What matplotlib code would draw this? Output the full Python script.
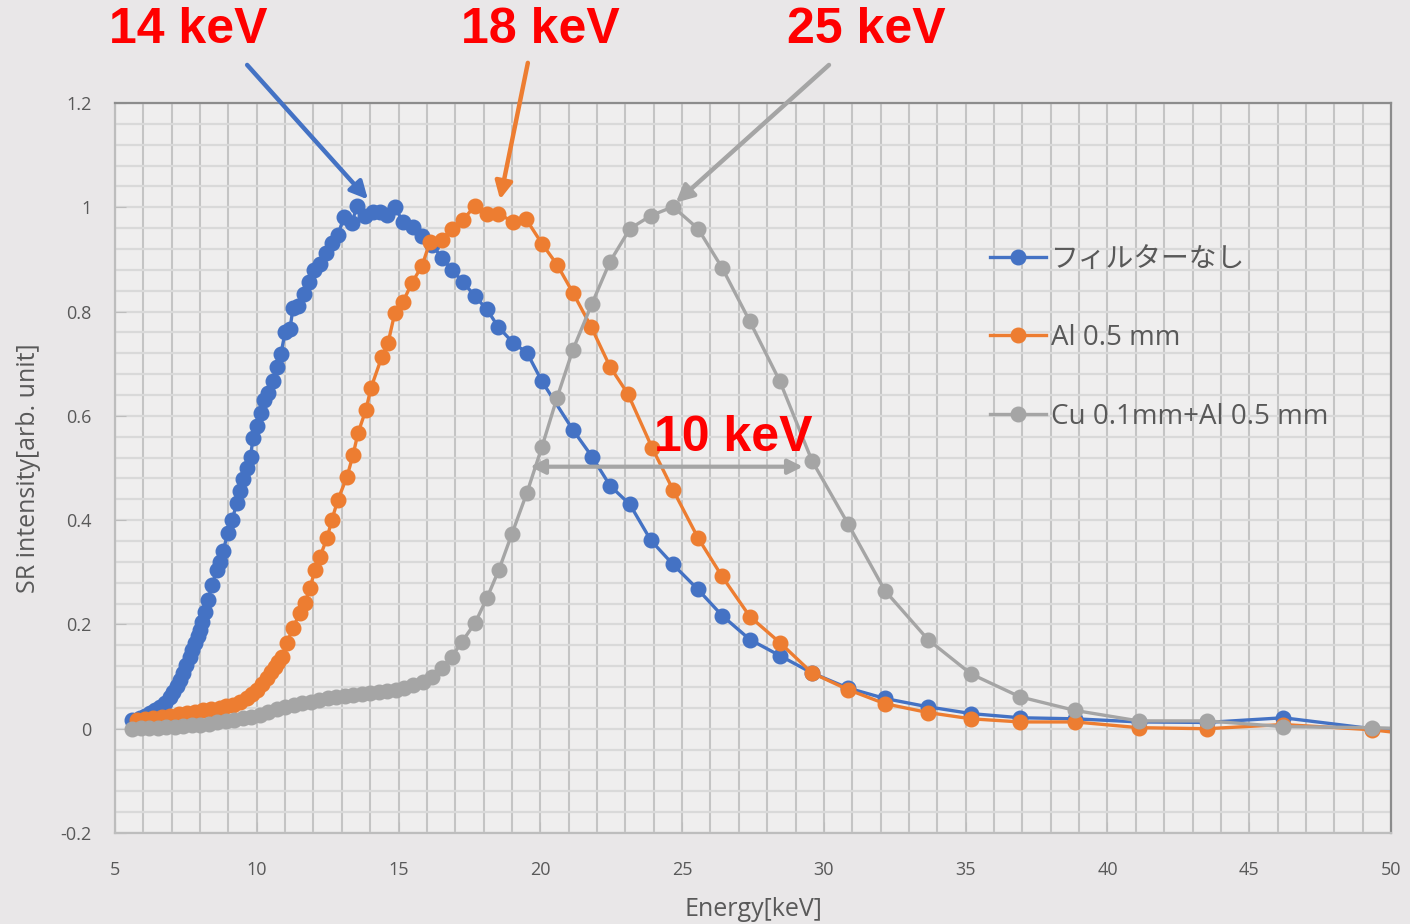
import matplotlib
matplotlib.use('Agg')
import matplotlib.pyplot as plt
from matplotlib.ticker import MultipleLocator, FuncFormatter

plt.rcParams['font.family'] = ['Open Sans', 'Noto Sans CJK JP', 'DejaVu Sans']

# ----------------------------------------------------------------------
# Spectra (energy in keV, normalised intensity)

blue_e = [5.60, 5.88, 6.05, 6.23, 6.40, 6.59, 6.76, 6.94, 7.05, 7.19, 7.30, 7.40,
          7.52, 7.64, 7.73, 7.82, 7.91, 8.00, 8.08, 8.17, 8.28, 8.42, 8.60, 8.70,
          8.81, 8.98, 9.13, 9.30, 9.41, 9.52, 9.66, 9.78, 9.87, 10.00, 10.15, 10.25,
          10.40, 10.57, 10.71, 10.85, 11.00, 11.17, 11.28, 11.45, 11.67, 11.84, 12.02,
          12.23, 12.44, 12.65, 12.86, 13.08, 13.36, 13.53, 13.82, 14.10, 14.35, 14.60,
          14.87, 15.16, 15.51, 15.83, 16.18, 16.53, 16.88, 17.27, 17.70, 18.12, 18.51,
          19.04, 19.53, 20.06, 21.15, 21.82, 22.46, 23.16, 23.90, 24.68, 25.56, 26.41,
          27.39, 28.45, 29.58, 30.85, 32.15, 33.67, 35.19, 36.92, 38.86, 41.10, 43.50,
          46.20, 49.33, 50.60]
blue_v = [0.017, 0.021, 0.025, 0.031, 0.036, 0.042, 0.050, 0.061, 0.070, 0.081, 0.094, 0.107,
          0.122, 0.138, 0.151, 0.165, 0.177, 0.190, 0.205, 0.224, 0.247, 0.276, 0.305, 0.320,
          0.340, 0.376, 0.401, 0.433, 0.455, 0.478, 0.500, 0.522, 0.558, 0.581, 0.606, 0.631,
          0.644, 0.667, 0.694, 0.719, 0.760, 0.767, 0.807, 0.811, 0.834, 0.857, 0.880,
          0.892, 0.913, 0.932, 0.947, 0.982, 0.970, 1.003, 0.984, 0.990, 0.990, 0.986,
          1.001, 0.971, 0.963, 0.944, 0.928, 0.903, 0.880, 0.857, 0.829, 0.804, 0.771,
          0.740, 0.721, 0.666, 0.573, 0.522, 0.466, 0.430, 0.361, 0.315, 0.267, 0.217,
          0.171, 0.140, 0.107, 0.078, 0.058, 0.042, 0.029, 0.021, 0.019, 0.013, 0.012,
          0.021, 0.000, -0.008]

orange_e = [5.78, 6.05, 6.34, 6.64, 6.94, 7.24, 7.54, 7.82, 8.10, 8.40, 8.70, 8.93,
            9.16, 9.40, 9.66, 9.83, 10.00, 10.18, 10.36, 10.50, 10.64, 10.76, 10.89,
            11.07, 11.28, 11.52, 11.70, 11.88, 12.05, 12.23, 12.48, 12.65, 12.86, 13.18,
            13.39, 13.57, 13.85, 14.03, 14.41, 14.63, 14.87, 15.16, 15.47, 15.83, 16.11,
            16.53, 16.88, 17.27, 17.70, 18.12, 18.51, 19.04, 19.49, 20.06, 20.59, 21.15,
            21.79, 22.46, 23.09, 23.94, 24.68, 25.56, 26.41, 27.39, 28.45, 29.58, 30.85,
            32.15, 33.67, 35.19, 36.92, 38.86, 41.10, 43.50, 46.20, 49.33, 50.60]
orange_v = [0.017, 0.019, 0.021, 0.023, 0.025, 0.028, 0.031, 0.033, 0.035, 0.037, 0.040, 0.043,
            0.046, 0.052, 0.059, 0.066, 0.075, 0.086, 0.098, 0.108, 0.119, 0.128, 0.138,
            0.165, 0.194, 0.222, 0.242, 0.270, 0.305, 0.330, 0.366, 0.401, 0.439, 0.483,
            0.524, 0.567, 0.612, 0.654, 0.713, 0.740, 0.798, 0.819, 0.855, 0.888, 0.934,
            0.938, 0.959, 0.976, 1.003, 0.988, 0.988, 0.972, 0.978, 0.930, 0.890, 0.836,
            0.771, 0.694, 0.642, 0.539, 0.458, 0.366, 0.292, 0.215, 0.165, 0.107, 0.075,
            0.048, 0.031, 0.019, 0.013, 0.013, 0.002, 0.000, 0.008, -0.002, -0.010]

gray_e = [5.60, 5.90, 6.20, 6.50, 6.80, 7.10, 7.40, 7.70, 8.00, 8.30, 8.60, 8.90,
          9.20, 9.50, 9.80, 10.10, 10.40, 10.70, 11.00, 11.30, 11.60, 11.90, 12.20,
          12.50, 12.80, 13.10, 13.40, 13.70, 14.00, 14.30, 14.60, 14.90, 15.20, 15.50,
          15.86, 16.18, 16.53, 16.88, 17.24, 17.70, 18.12, 18.54, 19.00, 19.53, 20.06,
          20.59, 21.15, 21.82, 22.46, 23.16, 23.90, 24.68, 25.56, 26.41, 27.39, 28.45,
          29.58, 30.85, 32.15, 33.67, 35.19, 36.92, 38.86, 41.10, 43.50, 46.20, 49.33,
          50.60]
gray_v = [0.000, 0.001, 0.002, 0.002, 0.003, 0.004, 0.005, 0.007, 0.008, 0.010, 0.012, 0.014,
          0.017, 0.020, 0.023, 0.027, 0.032, 0.037, 0.041, 0.045, 0.049, 0.052, 0.055,
          0.058, 0.060, 0.062, 0.064, 0.066, 0.068, 0.070, 0.072, 0.075, 0.079, 0.083,
          0.090, 0.100, 0.117, 0.138, 0.167, 0.203, 0.251, 0.305, 0.374, 0.453, 0.541,
          0.635, 0.727, 0.815, 0.896, 0.959, 0.984, 1.001, 0.959, 0.884, 0.781, 0.666,
          0.514, 0.393, 0.265, 0.171, 0.105, 0.061, 0.035, 0.015, 0.015, 0.004, 0.002,
          0.000]

labels = ['フィルターなし', 'Al 0.5 mm', 'Cu 0.1mm+Al 0.5 mm']
colors = ['#4472C4', '#ED7D31', '#A5A5A5']

# ----------------------------------------------------------------------

fig = plt.figure(figsize=(14.1, 9.24), dpi=100, facecolor='#e9e7e8')
ax = fig.add_axes([115/1410, 1 - 833/924, 1276/1410, 730/924])
ax.set_facecolor('#efeeee')

for e, v, lab, c in zip([blue_e, orange_e, gray_e], [blue_v, orange_v, gray_v], labels, colors):
    ax.plot(e, v, '-o', color=c, lw=2.4, ms=10.5, label=lab)

ax.set_xlim(5, 50)
ax.set_ylim(-0.2, 1.2)
ax.xaxis.set_major_locator(MultipleLocator(5))
ax.xaxis.set_minor_locator(MultipleLocator(1))
ax.yaxis.set_major_locator(MultipleLocator(0.2))
ax.yaxis.set_minor_locator(MultipleLocator(0.04))
ax.yaxis.set_major_formatter(FuncFormatter(lambda y, p: '%g' % round(y, 2)))

ax.grid(which='both', axis='x', color='#c4c4c4', lw=1.5)
ax.grid(which='both', axis='y', color='#d9d9d9', lw=1.6)
ax.set_axisbelow(True)

ax.tick_params(which='major', direction='in', length=8, color='#bdbdbd',
               labelcolor='#595959', labelsize=13)
ax.tick_params(which='minor', length=0)
ax.tick_params(axis='y', pad=17)
ax.tick_params(axis='x', pad=20)

for side in ['top', 'right']:
    ax.spines[side].set_color('#8c8c8c')
    ax.spines[side].set_linewidth(1.6)
for side in ['left', 'bottom']:
    ax.spines[side].set_color('#bdbdbd')
    ax.spines[side].set_linewidth(1.6)

ax.set_xlabel('Energy[keV]', fontsize=18, color='#595959')
ax.set_ylabel('SR intensity[arb. unit]', fontsize=18, color='#595959')
ax.xaxis.set_label_coords(0.5, -0.087)
ax.yaxis.set_label_coords(-0.058, 0.5)

ax.legend(loc='center left', bbox_to_anchor=(0.686, 0.678), frameon=False,
          fontsize=20, labelspacing=1.82, handlelength=2.0, handletextpad=0.2,
          borderpad=0, borderaxespad=0, labelcolor='#595959')

# Peak annotations
red_font = dict(family=['Liberation Sans Narrow', 'Liberation Sans'], weight='bold',
                color='#ff0000', fontsize=36, ha='center', va='center')
fig.text(188/1410, 1 - 30/924, '14 keV', **red_font)
fig.text(540/1410, 1 - 30/924, '18 keV', **red_font)
fig.text(866/1410, 1 - 30/924, '25 keV', **red_font)
fig.text(733/1410, 1 - 438/924, '10 keV', **red_font)

arrows = [
    ((13.92, 1.015), (9.66, 1.273), colors[0]),
    ((18.58, 1.015), (19.56, 1.277), colors[1]),
    ((24.78, 1.009), (30.18, 1.273), '#a5a5a5'),
]
for tip, tail, c in arrows:
    ax.annotate('', xy=tip, xytext=tail, annotation_clip=False,
                arrowprops=dict(arrowstyle='-|>', color=c, lw=3.2,
                                mutation_scale=26, shrinkA=0, shrinkB=0))

ax.annotate('', xy=(19.64, 0.5025), xytext=(29.26, 0.5025),
            arrowprops=dict(arrowstyle='<|-|>', color='#a5a5a5', lw=3,
                            mutation_scale=22, shrinkA=0, shrinkB=0))

fig.savefig('out.png', dpi=100, facecolor=fig.get_facecolor())
